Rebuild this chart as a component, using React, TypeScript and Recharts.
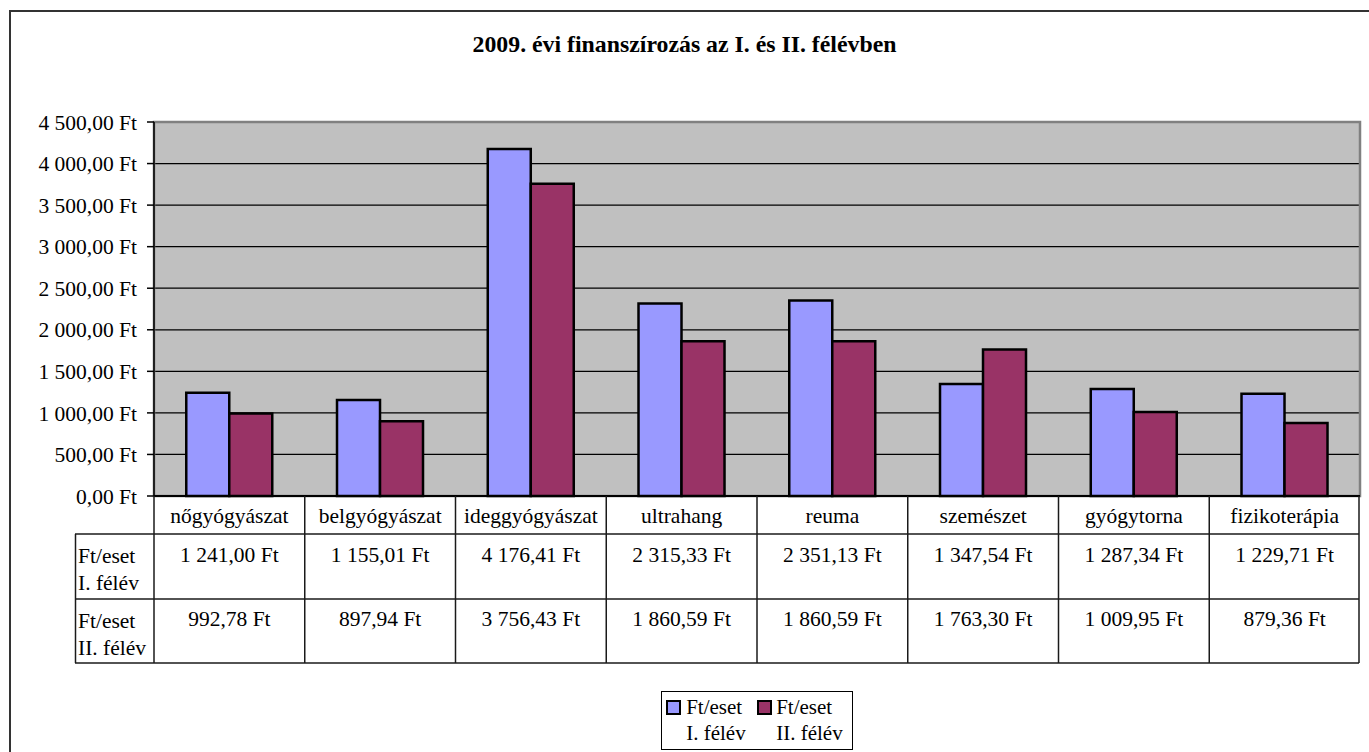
import React from 'react';
import { BarChart, Bar, XAxis, YAxis, CartesianGrid, Legend, ReferenceArea } from 'recharts';

const TITLE = '2009. évi finanszírozás az I. és II. félévben';
const CATEGORIES = ['nőgyógyászat', 'belgyógyászat', 'ideggyógyászat', 'ultrahang', 'reuma', 'szemészet', 'gyógytorna', 'fizikoterápia'];
const HALF1 = [1241.0, 1155.01, 4176.41, 2315.33, 2351.13, 1347.54, 1287.34, 1229.71];
const HALF2 = [992.78, 897.94, 3756.43, 1860.59, 1860.59, 1763.3, 1009.95, 879.36];
const SERIES_LABELS = [['Ft/eset', 'I. félév'], ['Ft/eset', 'II. félév']];
const SERIES_COLORS = ['#9999FF', '#993366'];
const Y_TICKS = [0, 500, 1000, 1500, 2000, 2500, 3000, 3500, 4000, 4500];

const data = CATEGORIES.map((name, i) => ({ name, h1: HALF1[i], h2: HALF2[i] }));

const FONT = 'Liberation Serif';
const W = 1369;
const H = 752;
const PLOT_LEFT = 154;
const PLOT_RIGHT = 1360;
const PLOT_TOP = 122;
const PLOT_BOTTOM = 496;
const TABLE_BOTTOM = 663;
const BAND = (PLOT_RIGHT - PLOT_LEFT) / CATEGORIES.length;
const LINE = '#1a1a1a';

const fmt = (v: number) => {
  const [ip, dp] = v.toFixed(2).split('.');
  const withSpaces = ip.replace(/\B(?=(\d{3})+(?!\d))/g, ' ');
  return `${withSpaces},${dp} Ft`;
};

const TableTick = (props: any) => {
  const { x, payload } = props;
  const i: number = payload.index ?? props.index ?? 0;
  const half = BAND / 2;
  const row1 = 534;
  const row2 = 599;
  const ts = { fontFamily: FONT, fontSize: 21.5, fill: '#000' } as const;
  return (
    <g>
      {i === 0 && (
        <g>
          <line x1={x - half} y1={PLOT_BOTTOM} x2={x - half} y2={TABLE_BOTTOM} stroke={LINE} strokeWidth={1.5} />
          <line x1={75.5} y1={row1} x2={75.5} y2={TABLE_BOTTOM} stroke={LINE} strokeWidth={1.5} />
          <line x1={75} y1={row1} x2={PLOT_RIGHT - 1} y2={row1} stroke={LINE} strokeWidth={1.5} />
          <line x1={75} y1={row2} x2={PLOT_RIGHT - 1} y2={row2} stroke={LINE} strokeWidth={1.5} />
          <line x1={75} y1={TABLE_BOTTOM} x2={PLOT_RIGHT - 1} y2={TABLE_BOTTOM} stroke={LINE} strokeWidth={1.5} />
          <text x={78} y={563} style={ts}>{SERIES_LABELS[0][0]}</text>
          <text x={78} y={590} style={ts}>{SERIES_LABELS[0][1]}</text>
          <text x={78} y={628} style={ts}>{SERIES_LABELS[1][0]}</text>
          <text x={78} y={655} style={ts}>{SERIES_LABELS[1][1]}</text>
        </g>
      )}
      <line x1={Math.min(x + half, PLOT_RIGHT - 1)} y1={PLOT_BOTTOM} x2={Math.min(x + half, PLOT_RIGHT - 1)} y2={TABLE_BOTTOM} stroke={LINE} strokeWidth={1.5} />
      <text x={x} y={523} textAnchor="middle" style={ts}>{payload.value}</text>
      <text x={x} y={562} textAnchor="middle" style={ts}>{fmt(HALF1[i])}</text>
      <text x={x} y={626} textAnchor="middle" style={ts}>{fmt(HALF2[i])}</text>
    </g>
  );
};

const LegendBox = () => (
  <div
    style={{
      position: 'relative',
      width: 192,
      height: 59,
      boxSizing: 'border-box',
      border: '1.5px solid #000',
      background: '#fff',
      fontFamily: FONT,
      fontSize: 21,
      lineHeight: '26px',
      color: '#000',
    }}
  >
    {SERIES_LABELS.map((lines, i) => (
      <React.Fragment key={i}>
        <div
          style={{
            position: 'absolute',
            left: i === 0 ? 4.8 : 95.8,
            top: 7.5,
            width: 15,
            height: 15,
            boxSizing: 'border-box',
            border: '2px solid #000',
            background: SERIES_COLORS[i],
          }}
        />
        <div style={{ position: 'absolute', left: i === 0 ? 24.5 : 114.5, top: 2.4, whiteSpace: 'nowrap', textAlign: 'left' }}>
          <div>{lines[0]}</div>
          <div>{lines[1]}</div>
        </div>
      </React.Fragment>
    ))}
  </div>
);

export default function App() {
  return (
    <div style={{ position: 'relative', width: W, height: H, overflow: 'hidden', background: '#fff' }}>
      <style>{'body{margin:0;}'}</style>
      <div
        style={{
          position: 'absolute',
          left: 9,
          top: 10,
          width: 1500,
          height: 900,
          border: '2px solid #333',
          boxSizing: 'border-box',
          pointerEvents: 'none',
        }}
      />
      <div
        style={{
          position: 'absolute',
          left: 0,
          top: 33,
          width: W,
          textAlign: 'center',
          fontFamily: FONT,
          fontWeight: 'bold',
          fontSize: 23.8,
          lineHeight: '23.8px',
          color: '#000',
          whiteSpace: 'nowrap',
        }}
      >
        {TITLE}
      </div>
      <div style={{ position: 'absolute', left: 0, top: 0 }}>
        <BarChart
          width={W}
          height={H}
          data={data}
          margin={{ top: PLOT_TOP, right: W - PLOT_RIGHT, bottom: H - TABLE_BOTTOM, left: 0 }}
          barCategoryGap="21.4%"
          barGap={0}
        >
          <CartesianGrid vertical={false} stroke="#000" strokeWidth={1.2} fill="#C0C0C0" fillOpacity={1} />
          <ReferenceArea y1={0} y2={4500} fill="none" stroke="#808080" strokeWidth={2.5} ifOverflow="extendDomain" />
          <YAxis
            width={PLOT_LEFT}
            domain={[0, 4500]}
            ticks={Y_TICKS}
            interval={0}
            tickFormatter={fmt}
            tick={{ fontFamily: FONT, fontSize: 21.5, fill: '#000', style: { fontFamily: FONT } }}
            tickLine={{ stroke: '#000', strokeWidth: 1.5 }}
            axisLine={{ stroke: '#000', strokeWidth: 1.5 }}
            tickSize={7}
            tickMargin={10}
          />
          <XAxis
            dataKey="name"
            height={TABLE_BOTTOM - PLOT_BOTTOM}
            interval={0}
            tickLine={false}
            axisLine={{ stroke: '#000', strokeWidth: 2 }}
            tick={<TableTick />}
          />
          <Bar dataKey="h1" fill={SERIES_COLORS[0]} stroke="#000" strokeWidth={2.5} isAnimationActive={false} />
          <Bar dataKey="h2" fill={SERIES_COLORS[1]} stroke="#000" strokeWidth={2.5} isAnimationActive={false} />
          <Legend
            layout="horizontal"
            verticalAlign="middle"
            align="center"
            content={<LegendBox />}
            wrapperStyle={{ position: 'absolute', left: 660.7, top: 691, width: 192, height: 59 }}
          />
        </BarChart>
      </div>
    </div>
  );
}
